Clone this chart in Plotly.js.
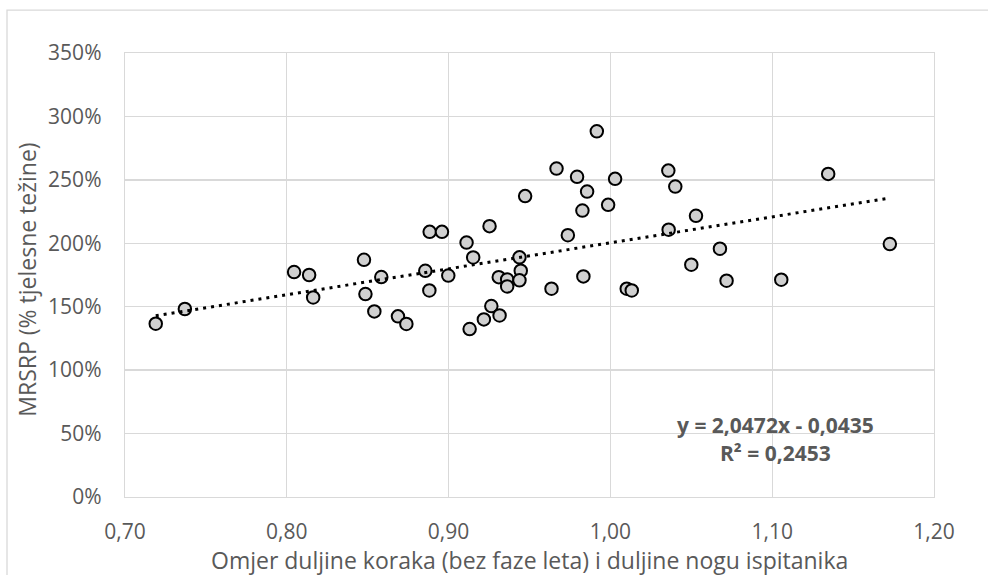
<!DOCTYPE html>
<html>
<head>
<meta charset="utf-8">
<script src="https://cdn.plot.ly/plotly-3.0.1.min.js"></script>
<style>
html,body{margin:0;padding:0;background:#fff;}
#chart{width:988px;height:575px;}
</style>
</head>
<body>
<div id="chart"></div>
<script>
// Data (x = step-length/leg-length ratio, y = MRSRP in % body weight)
const ratioX = [0.719, 0.737, 0.8045, 0.8138, 0.8163, 0.8477, 0.8486, 0.8541, 0.8584, 0.8687,
  0.8739, 0.8856, 0.8881, 0.8883, 0.8959, 0.8998, 0.9111, 0.9152, 0.9253, 0.9130,
  0.9218, 0.9264, 0.9315, 0.9310, 0.9362, 0.9362, 0.9438, 0.9446, 0.9438, 0.9473,
  0.9636, 0.9667, 0.9737, 0.9794, 0.9827, 0.9833, 0.9856, 0.9916, 0.9986, 1.0029,
  1.0101, 1.0132, 1.0358, 1.0360, 1.0401, 1.0500, 1.0529, 1.0677, 1.0718, 1.1056,
  1.1346, 1.1727];
const mrsrpPct = [136.6, 148.2, 177.3, 175.0, 157.3, 187.0, 160.0, 146.3, 173.4, 142.4,
  136.4, 178.3, 162.8, 209.0, 209.0, 174.6, 200.6, 188.8, 213.5, 132.4,
  140.0, 150.5, 143.1, 173.3, 171.5, 166.0, 188.9, 178.4, 170.8, 237.2,
  164.2, 258.9, 206.4, 252.4, 225.8, 173.9, 240.8, 288.3, 230.3, 250.8,
  164.2, 162.8, 257.3, 210.7, 244.7, 183.1, 221.7, 195.7, 170.5, 171.3,
  254.7, 199.4];
const trendSlope = 2.0472;
const trendIntercept = -0.0435;
const equationLines = ["y = 2,0472x - 0,0435", "R² = 0,2453"];
const xTickVals = [0.70, 0.80, 0.90, 1.00, 1.10, 1.20];
const xTickText = ["0,70", "0,80", "0,90", "1,00", "1,10", "1,20"];
const yTickVals = [0, 50, 100, 150, 200, 250, 300, 350];
const yTickText = ["0%", "50%", "100%", "150%", "200%", "250%", "300%", "350%"];
const xTitle = "Omjer duljine koraka (bez faze leta) i duljine nogu ispitanika";
const yTitle = "MRSRP (% tjelesne težine)";

const xMin = Math.min(...ratioX), xMax = Math.max(...ratioX);
const trendX = [xMin, xMax];
const trendY = trendX.map(v => (trendSlope * v + trendIntercept) * 100);

const FONT = '"Open Sans", "DejaVu Sans", sans-serif';
const GREY = '#595959';
const GRID = '#d9d9d9';

const traces = [
  {
    x: ratioX, y: mrsrpPct, type: 'scatter', mode: 'markers',
    marker: {size: 12.5, color: '#d0d0d0', line: {color: '#000000', width: 2}},
    hoverinfo: 'x+y', showlegend: false
  },
  {
    x: trendX, y: trendY, type: 'scatter', mode: 'lines',
    line: {color: '#000000', width: 3, dash: '3px,5px'},
    hoverinfo: 'skip', showlegend: false
  }
];

const layout = {
  width: 988, height: 575,
  margin: {l: 125, r: 54, t: 53, b: 77.5},
  paper_bgcolor: '#ffffff', plot_bgcolor: '#ffffff',
  font: {family: FONT, color: GREY, size: 21},
  showlegend: false,
  xaxis: {
    range: [0.70, 1.20], tickvals: xTickVals, ticktext: xTickText,
    showgrid: true, gridcolor: GRID, gridwidth: 1.3,
    showline: true, linecolor: GRID, linewidth: 1.3, mirror: true,
    zeroline: false, ticks: '', ticklabelstandoff: 15,
    tickfont: {family: FONT, size: 21, color: GREY}, fixedrange: true
  },
  yaxis: {
    range: [0, 350], tickvals: yTickVals, ticktext: yTickText,
    showgrid: true, gridcolor: GRID, gridwidth: 1.3,
    showline: true, linecolor: GRID, linewidth: 1.3, mirror: true,
    zeroline: false, ticks: '', ticklabelstandoff: 18,
    tickfont: {family: FONT, size: 21, color: GREY}, fixedrange: true
  },
  shapes: [
    {type: 'rect', xref: 'paper', yref: 'paper',
     x0: (7 - 125) / 809, x1: (995 - 125) / 809,
     y0: (497.5 - 590) / 444.5, y1: 1 + (53 - 10) / 444.5,
     line: {color: GRID, width: 1.3}, fillcolor: 'rgba(0,0,0,0)', layer: 'below'}
  ],
  annotations: [
    {text: equationLines[0], xref: 'x', yref: 'y', x: 1.1019, y: 57.1,
     showarrow: false, xanchor: 'center', yanchor: 'middle',
     font: {family: FONT, size: 21, color: GREY, weight: 'bold'}},
    {text: equationLines[1], xref: 'x', yref: 'y', x: 1.1019, y: 35.0,
     showarrow: false, xanchor: 'center', yanchor: 'middle',
     font: {family: FONT, size: 21, color: GREY, weight: 'bold'}},
    {text: xTitle, xref: 'paper', yref: 'paper', x: 0.5, y: (497.5 - 561) / 444.5,
     showarrow: false, xanchor: 'center', yanchor: 'middle',
     font: {family: FONT, size: 23, color: GREY}},
    {text: yTitle, xref: 'paper', yref: 'paper', x: (27 - 125) / 809, y: (497.5 - 280) / 444.5,
     showarrow: false, xanchor: 'center', yanchor: 'middle', textangle: -90,
     font: {family: FONT, size: 23, color: GREY}}
  ]
};

Plotly.newPlot('chart', traces, layout, {displayModeBar: false, staticPlot: true});
</script>
</body>
</html>
